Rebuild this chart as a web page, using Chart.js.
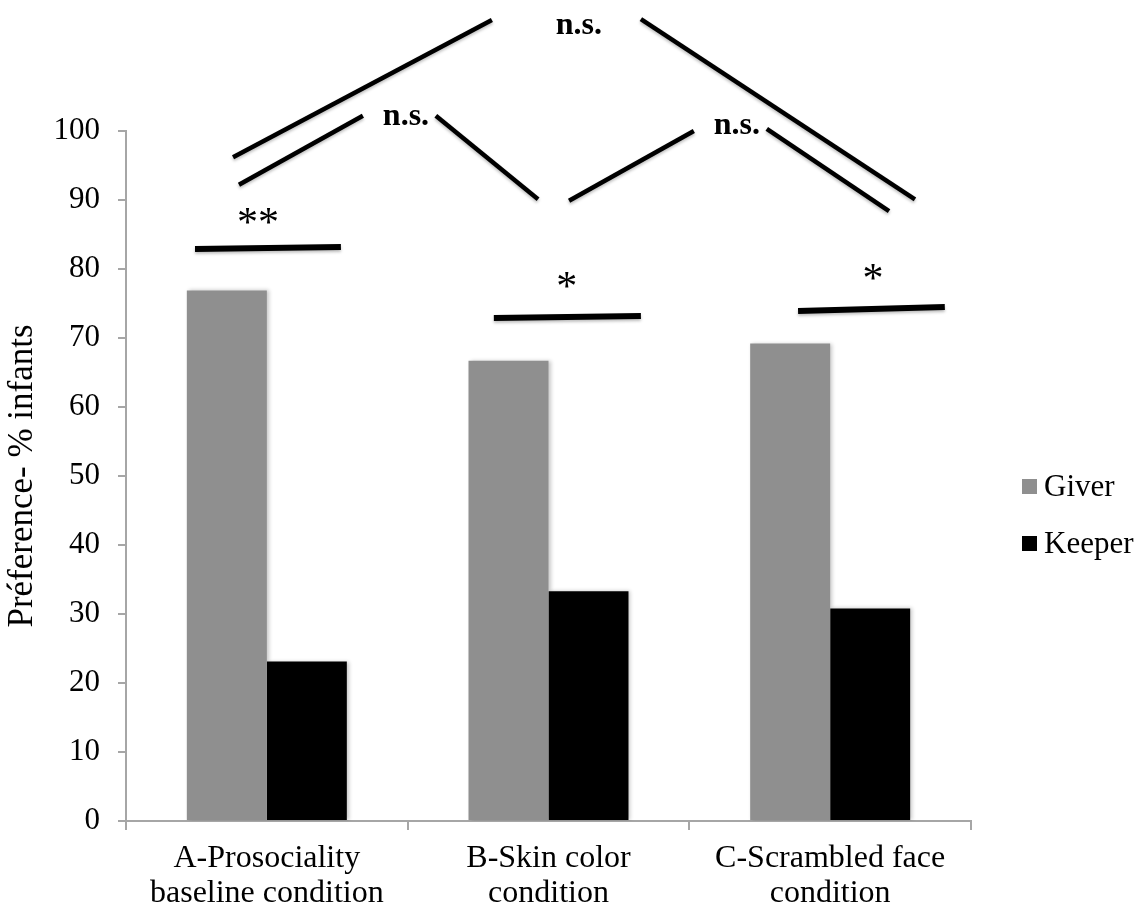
<!DOCTYPE html>
<html>
<head>
<meta charset="utf-8">
<script src="https://cdn.jsdelivr.net/npm/chart.js@4/dist/chart.umd.min.js"></script>
<style>
    body { margin: 0; background: #fff; }
    #wrap { width: 1143px; height: 913px; }
</style>
</head>
<body>
<div id="wrap"><canvas id="chart"></canvas></div>
<script>
const categories = [
    ['A-Prosociality', 'baseline condition'],
    ['B-Skin color', 'condition'],
    ['C-Scrambled face', 'condition']
];
const seriesNames = ['Giver', 'Keeper'];
const giverValues = [76.9, 66.7, 69.2];
const keeperValues = [23.1, 33.3, 30.8];
const yAxisTitle = 'Préference- % infants';

// significance marks, in data units (x = category index, y = % value)
const sigLines = [
    {x: [-0.120, 0.799], y: [96.2, 116.1], w: 4.5},
    {x: [-0.099, 0.341], y: [92.2, 102.2], w: 4.5},
    {x: [0.600, 0.963], y: [102.2, 90.1], w: 4.5},
    {x: [1.073, 1.516], y: [89.9, 100.0], w: 4.5},
    {x: [1.775, 2.209], y: [100.3, 88.4], w: 4.5},
    {x: [1.328, 2.301], y: [116.2, 90.1], w: 4.5},
    {x: [-0.255, 0.263], y: [82.9, 83.2], w: 6},
    {x: [0.806, 1.328], y: [72.9, 73.2], w: 6},
    {x: [1.886, 2.407], y: [73.9, 74.5], w: 6}
];
const sigLabels = [
    {text: 'n.s.', x: 1.108, y: 115.1, bold: true},
    {text: 'n.s.', x: 0.494, y: 102.0, bold: true},
    {text: 'n.s.', x: 1.669, y: 100.7, bold: true},
    {text: '**', x: -0.031, y: 87.7},
    {text: '*', x: 1.065, y: 78.4},
    {text: '*', x: 2.152, y: 79.6}
];

const serif = '"Liberation Serif", "Times New Roman", serif';
const axisGray = '#a6a6a6';

//draws the brackets and stars on top of the bars
const sigPlugin = {
    id: 'sigMarks',
    afterDraw: (chart) => {
        const ctx = chart.ctx;
        const xs = chart.scales.x;
        const ys = chart.scales.y;
        ctx.save();
        ctx.shadowColor = 'rgba(0,0,0,0.25)';
        ctx.shadowBlur = 3;
        ctx.shadowOffsetY = 2;
        ctx.strokeStyle = '#000';
        ctx.lineCap = 'butt';
        sigLines.forEach(l => {
            ctx.lineWidth = l.w;
            ctx.beginPath();
            ctx.moveTo(xs.getPixelForValue(l.x[0]), ys.getPixelForValue(l.y[0]));
            ctx.lineTo(xs.getPixelForValue(l.x[1]), ys.getPixelForValue(l.y[1]));
            ctx.stroke();
        });
        ctx.shadowColor = 'transparent';
        ctx.fillStyle = '#000';
        ctx.textAlign = 'center';
        ctx.textBaseline = 'alphabetic';
        sigLabels.forEach(s => {
            ctx.font = s.bold ? `bold 32px ${serif}` : `42px ${serif}`;
            const m = ctx.measureText(s.text);
            const py = ys.getPixelForValue(s.y) + (m.actualBoundingBoxAscent - m.actualBoundingBoxDescent) / 2;
            ctx.fillText(s.text, xs.getPixelForValue(s.x), py);
        });
        ctx.restore();
    }
};

//legend drawn by hand so it sits where the original one does
const legendPlugin = {
    id: 'sideLegend',
    afterDraw: (chart) => {
        const ctx = chart.ctx;
        ctx.save();
        ctx.font = `31px ${serif}`;
        ctx.textAlign = 'left';
        ctx.textBaseline = 'middle';
        chart.data.datasets.forEach((ds, i) => {
            const cy = 487 + i * 57;
            ctx.fillStyle = ds.backgroundColor;
            ctx.fillRect(1022, cy - 8, 15, 15);
            ctx.fillStyle = '#000';
            ctx.fillText(ds.label, 1044, cy + 1);
        });
        ctx.restore();
    }
};

//soft shadow behind the bars
const barShadow = {
    id: 'barShadow',
    beforeDatasetsDraw: (chart) => {
        const ctx = chart.ctx;
        ctx.save();
        ctx.shadowColor = 'rgba(0,0,0,0.22)';
        ctx.shadowBlur = 4;
        ctx.shadowOffsetX = 2;
    },
    afterDatasetsDraw: (chart) => {
        chart.ctx.restore();
    }
};

const ctx = document.getElementById('chart').getContext('2d');
new Chart(ctx, {
    type: 'bar',
    data: {
        labels: categories,
        datasets: [
            {label: seriesNames[0], data: giverValues, backgroundColor: '#8f8f8f'},
            {label: seriesNames[1], data: keeperValues, backgroundColor: '#000000'}
        ]
    },
    options: {
        responsive: true,
        maintainAspectRatio: false,
        animation: false,
        devicePixelRatio: 1,
        categoryPercentage: 0.568,
        barPercentage: 1.0,
        layout: {
            padding: {top: 131, right: 172, bottom: 0, left: 0}
        },
        plugins: {
            legend: {display: false},
            tooltip: {enabled: false}
        },
        scales: {
            x: {
                grid: {
                    drawOnChartArea: false,
                    drawTicks: true,
                    tickLength: 9,
                    color: axisGray,
                    lineWidth: 2,
                    offset: true
                },
                border: {display: true, color: axisGray, width: 2},
                ticks: {
                    color: '#000',
                    font: {family: serif, size: 32, lineHeight: 1.1},
                    padding: 11,
                    maxRotation: 0,
                    autoSkip: false
                },
                afterFit: (scale) => { scale.height = 92; }
            },
            y: {
                min: 0,
                max: 100,
                grid: {
                    drawOnChartArea: false,
                    drawTicks: true,
                    tickLength: 8,
                    color: axisGray,
                    lineWidth: 2
                },
                border: {display: true, color: axisGray, width: 2},
                ticks: {
                    stepSize: 10,
                    color: '#000',
                    font: {family: serif, size: 31},
                    padding: 18
                },
                title: {
                    display: true,
                    text: yAxisTitle,
                    color: '#000',
                    font: {family: serif, size: 35, lineHeight: 1.1},
                    padding: {top: 4, bottom: 0}
                },
                afterFit: (scale) => { scale.width = 126; }
            }
        }
    },
    plugins: [barShadow, sigPlugin, legendPlugin]
});
</script>
</body>
</html>
